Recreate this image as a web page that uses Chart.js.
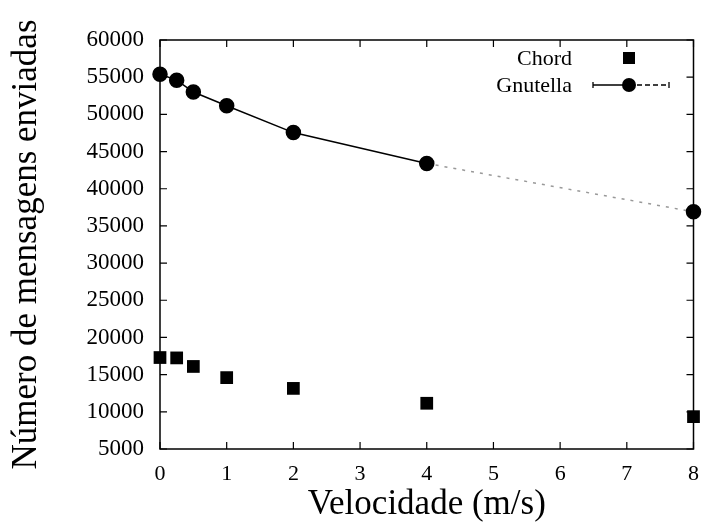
<!DOCTYPE html>
<html>
<head>
<meta charset="utf-8">
<script src="https://cdn.jsdelivr.net/npm/chart.js@4/dist/chart.umd.min.js"></script>
<style>
  html, body { margin: 0; padding: 0; background: #fff; }
  #wrap { width: 711px; height: 530px; }
</style>
</head>
<body>
<div id="wrap"><canvas id="c" width="711" height="530"></canvas></div>
<script>
// velocidade (m/s)
var speeds = [0, 0.25, 0.5, 1, 2, 4, 8];
var chordMsgs = [17300, 17250, 16100, 14600, 13150, 11150, 9350];
var gnutellaMsgs = [55400, 54600, 53000, 51150, 47550, 43400, 36900];
var seriesNames = ['Chord', 'Gnutella'];
var xTitle = 'Velocidade (m/s)';
var yTitle = 'Número de mensagens enviadas';

var SERIF = '"Liberation Serif", "DejaVu Serif", serif';

function toPoints(xs, ys) {
  return xs.map(function(x, i) { return { x: x, y: ys[i] }; });
}

// frame with inward tick marks on all four sides (gnuplot look)
var framePlugin = {
  id: 'frame',
  afterDraw: function(chart) {
    var ctx = chart.ctx, a = chart.chartArea;
    var sx = chart.scales.x, sy = chart.scales.y;
    var len = 7;
    ctx.save();
    ctx.strokeStyle = '#000';
    ctx.lineWidth = 1.5;
    ctx.strokeRect(a.left, a.top, a.right - a.left, a.bottom - a.top);
    ctx.lineWidth = 1.2;
    ctx.beginPath();
    sx.ticks.forEach(function(t) {
      var px = sx.getPixelForValue(t.value);
      ctx.moveTo(px, a.bottom); ctx.lineTo(px, a.bottom - len);
      ctx.moveTo(px, a.top); ctx.lineTo(px, a.top + len);
    });
    sy.ticks.forEach(function(t) {
      var py = sy.getPixelForValue(t.value);
      ctx.moveTo(a.left, py); ctx.lineTo(a.left + len, py);
      ctx.moveTo(a.right, py); ctx.lineTo(a.right - len, py);
    });
    ctx.stroke();
    ctx.restore();
  }
};

// legend inside the top right corner
var keyPlugin = {
  id: 'key',
  afterDraw: function(chart) {
    var ctx = chart.ctx;
    var textRight = 572, sym = 629, rows = [58, 85];
    ctx.save();
    ctx.fillStyle = '#000';
    ctx.strokeStyle = '#000';
    ctx.font = '22px ' + SERIF;
    ctx.textAlign = 'right';
    ctx.textBaseline = 'middle';
    chart.data.datasets.forEach(function(ds, i) {
      var y = rows[i];
      ctx.fillText(ds.label, textRight, y + 1);
      if (ds.pointStyle === 'rect') {
        ctx.fillRect(sym - 6, y - 6, 12, 12);
      } else {
        ctx.lineWidth = 1.3;
        ctx.beginPath();
        ctx.moveTo(593, y); ctx.lineTo(sym, y);
        ctx.moveTo(593, y - 3); ctx.lineTo(593, y + 3);
        ctx.moveTo(669, y - 3); ctx.lineTo(669, y + 3);
        ctx.stroke();
        ctx.setLineDash([5, 3]);
        ctx.beginPath();
        ctx.moveTo(sym, y); ctx.lineTo(669, y);
        ctx.stroke();
        ctx.setLineDash([]);
        ctx.beginPath();
        ctx.arc(sym, y, 7, 0, Math.PI * 2);
        ctx.fill();
      }
    });
    ctx.restore();
  }
};

function plain(v) { return String(v); }

new Chart(document.getElementById('c'), {
  type: 'scatter',
  data: {
    datasets: [
      {
        label: seriesNames[0],
        data: toPoints(speeds, chordMsgs),
        showLine: false,
        pointStyle: 'rect',
        pointRadius: 9,
        pointHoverRadius: 9,
        backgroundColor: '#000',
        borderColor: '#000',
        borderWidth: 0,
        clip: false
      },
      {
        label: seriesNames[1],
        data: toPoints(speeds, gnutellaMsgs),
        showLine: true,
        pointStyle: 'circle',
        pointRadius: 7,
        pointHoverRadius: 7,
        backgroundColor: '#000',
        borderColor: '#000',
        borderWidth: 1.5,
        tension: 0,
        clip: false,
        segment: {
          borderColor: function(c) { return c.p0.parsed.x >= 4 ? '#999' : undefined; },
          borderDash: function(c) { return c.p0.parsed.x >= 4 ? [3, 6] : undefined; }
        }
      }
    ]
  },
  options: {
    responsive: false,
    animation: false,
    events: [],
    layout: { padding: { top: 40, right: 12, left: 0, bottom: 0 } },
    plugins: {
      legend: { display: false },
      tooltip: { enabled: false }
    },
    scales: {
      x: {
        type: 'linear',
        min: 0,
        max: 8,
        afterFit: function(s) { s.height = 81; },
        grid: { display: false, drawTicks: false },
        border: { display: false },
        ticks: {
          stepSize: 1,
          padding: 12,
          color: '#000',
          callback: plain,
          font: { family: SERIF, size: 22 }
        },
        title: {
          display: true,
          text: xTitle,
          color: '#000',
          font: { family: SERIF, size: 35 },
          padding: { top: 0, bottom: 4 }
        }
      },
      y: {
        type: 'linear',
        min: 5000,
        max: 60000,
        afterFit: function(s) { s.width = 160; },
        grid: { display: false, drawTicks: false },
        border: { display: false },
        ticks: {
          stepSize: 5000,
          padding: 16,
          color: '#000',
          callback: plain,
          font: { family: SERIF, size: 23 }
        },
        title: {
          display: true,
          text: yTitle,
          color: '#000',
          font: { family: SERIF, size: 35 },
          padding: { top: 6, bottom: 0 }
        }
      }
    }
  },
  plugins: [framePlugin, keyPlugin]
});
</script>
</body>
</html>
